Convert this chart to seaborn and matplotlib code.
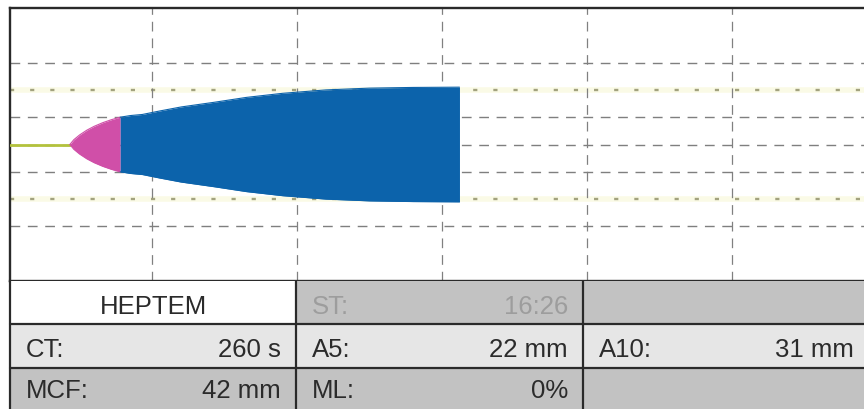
import matplotlib
matplotlib.use("Agg")
import matplotlib.pyplot as plt
from matplotlib.patches import Rectangle
import numpy as np
import pandas as pd
import seaborn as sns

# ---- assay results -------------------------------------------------------
test_name = "HEPTEM"
start_time = "16:26"
ct_s = 260          # clotting time, seconds
a5_mm = 22          # amplitude 5 min after CT
a10_mm = 31         # amplitude 10 min after CT
mcf_mm = 42         # maximum clot firmness
ml_pct = 0          # maximum lysis

# ---- clot trace (full amplitude in mm against run time in minutes) ------
trace_time_min = [4.33, 4.6, 5.0, 5.5, 6.0, 6.6, 7.2, 7.8, 8.5, 9.33,
                  10.5, 12.0, 14.33, 16.5, 19.0, 22.0, 25.0, 28.0, 31.2]
trace_amp_mm = [0, 3.5, 7.0, 10.5, 13.3, 16.0, 18.2, 20.0, 21.2, 22,
                24.5, 27.5, 31, 34.5, 37.5, 40.0, 41.3, 41.8, 42]
cft_end_min = 7.8   # end of clot formation phase (amplitude 20 mm)

grid_minutes = [10, 20, 30, 40, 50]
grid_amp_mm = [-30, -10, 0, 10, 30]
ref_amp_mm = [-20, 20]

# ---- table content -------------------------------------------------------
row_labels = [["", "ST:", ""], ["CT:", "A5:", "A10:"], ["MCF:", "ML:", ""]]
row_values = [["", start_time, ""],
              [f"{ct_s} s", f"{a5_mm} mm", f"{a10_mm} mm"],
              [f"{mcf_mm} mm", f"{ml_pct}%", ""]]

sns.set_theme(style="white")
plt.rcParams["font.family"] = ["Liberation Sans", "DejaVu Sans"]
plt.rcParams["lines.scale_dashes"] = False

W, H = 864, 409
fig = plt.figure(figsize=(W / 100, H / 100), dpi=100)
fig.patch.set_facecolor("white")

# ---- trace panel ---------------------------------------------------------
chart_top, chart_bottom, chart_left = 8, 281, 10
ax = fig.add_axes([chart_left / W, (H - chart_bottom) / H,
                   (W - chart_left) / W, (chart_bottom - chart_top) / H])
ax.set_xlim(0.2, 59.1)
ax.set_ylim(-50, 50)
ax.set_facecolor("white")

for y in ref_amp_mm:
    ax.axhline(y, color="#fafae6", lw=4.0, zorder=1)
    ax.axhline(y, color="#a2a27e", lw=1.7, dashes=(3, 11.5), zorder=2)
for y in grid_amp_mm:
    ax.axhline(y, color="#7f7f7f", lw=1.0, dashes=(7, 5.5), zorder=2)
for x in grid_minutes:
    ax.axvline(x, color="#808080", lw=0.9, dashes=(7, 5), zorder=2)

df = pd.DataFrame({"time": trace_time_min, "amp": trace_amp_mm})
df["upper"] = df["amp"] / 2
df["lower"] = -df["amp"] / 2
ct_min = ct_s / 60

base = pd.DataFrame({"time": [0.2, ct_min], "amp": [0, 0]})
sns.lineplot(data=base, x="time", y="amp", ax=ax, color="#b3c23c",
             lw=2.0, zorder=3, legend=False)

pink = df[df["time"] <= cft_end_min]
blue = df[df["time"] >= cft_end_min]
ax.fill_between(pink["time"], pink["lower"], pink["upper"],
                color="#d04fa8", lw=0, zorder=4)
ax.fill_between(blue["time"], blue["lower"], blue["upper"],
                color="#0c63ab", lw=0, zorder=4)
for part, col in ((pink, "#d04fa8"), (blue, "#0c63ab")):
    sns.lineplot(data=part, x="time", y="upper", ax=ax, color=col,
                 lw=0.8, zorder=4, legend=False)
    sns.lineplot(data=part, x="time", y="lower", ax=ax, color=col,
                 lw=0.8, zorder=4, legend=False)

ax.set_xticks([])
ax.set_yticks([])
ax.set_xlabel("")
ax.set_ylabel("")
for side in ("top", "left", "bottom"):
    ax.spines[side].set_visible(True)
    ax.spines[side].set_color("#2a2a2a")
    ax.spines[side].set_linewidth(1.7)
ax.spines["right"].set_visible(False)

# ---- result table --------------------------------------------------------
tab = fig.add_axes([0, 0, 1, (H - chart_bottom) / H])
tab.set_xlim(0, W)
tab.set_ylim(H, chart_bottom)
tab.axis("off")

col_edges = [10, 296, 583, W + 5]
row_edges = [chart_bottom, 324, 368, H + 5]
cell_bg = [["#ffffff", "#c2c2c2", "#c2c2c2"],
           ["#e6e6e6", "#e6e6e6", "#e6e6e6"],
           ["#c2c2c2", "#c2c2c2", "#c2c2c2"]]

for r in range(3):
    for c in range(3):
        x0, x1 = col_edges[c], col_edges[c + 1]
        y0, y1 = row_edges[r], row_edges[r + 1]
        tab.add_patch(Rectangle((x0, y0), x1 - x0, y1 - y0,
                                facecolor=cell_bg[r][c], edgecolor="none",
                                zorder=1))

for y in row_edges[1:3]:
    tab.plot([col_edges[0], W], [y, y], color="#2a2a2a", lw=1.6, zorder=3)
for x in col_edges[:3]:
    tab.plot([x, x], [chart_bottom, H], color="#2a2a2a", lw=1.6, zorder=3)

fs = 18.5
txt = "#2b2b2b"
faint = "#9d9d9d"
baselines = [314, 357, 398]
tab.text((col_edges[0] + col_edges[1]) / 2, baselines[0], test_name,
         ha="center", va="baseline", fontsize=fs, color=txt, zorder=4)
for r in range(3):
    for c in range(3):
        lab = row_labels[r][c]
        val = row_values[r][c]
        color = faint if r == 0 else txt
        if lab:
            tab.text(col_edges[c] + 16, baselines[r], lab, ha="left",
                     va="baseline", fontsize=fs, color=color, zorder=4)
        if val:
            right = col_edges[c + 1] - 15 if c < 2 else 854
            tab.text(right, baselines[r], val, ha="right", va="baseline",
                     fontsize=fs, color=color, zorder=4)

fig.savefig("out.png", dpi=100, facecolor="white")
